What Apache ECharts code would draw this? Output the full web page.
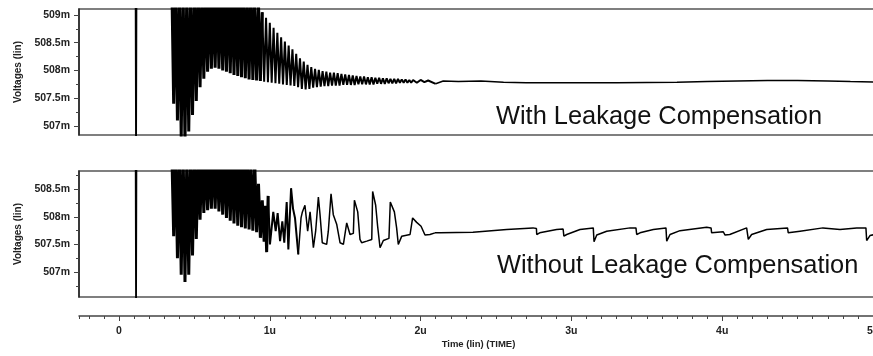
<!DOCTYPE html>
<html>
<head>
<meta charset="utf-8">
<script src="https://cdn.jsdelivr.net/npm/echarts@6/dist/echarts.min.js"></script>
<style>
html,body{margin:0;padding:0;background:#fff;}
#c{width:873px;height:356px;}
</style>
</head>
<body>
<div id="c"></div>
<script>
// ---------- tick labels ----------
const xTickLabels = [0, 1, 2, 3, 4, 5];
const xMinorTicks = [-0.265,-0.2,-0.1,0.1,0.2,0.3,0.4,0.5,0.6,0.7,0.8,0.9,1.1,1.2,1.3,1.4,1.5,1.6,1.7,1.8,1.9,2.1,2.2,2.3,2.4,2.5,2.6,2.7,2.8,2.9,3.1,3.2,3.3,3.4,3.5,3.6,3.7,3.8,3.9,4.1,4.2,4.3,4.4,4.5,4.6,4.7,4.8,4.9];
const yTicksTop = [507, 507.5, 508, 508.5, 509];
const yMinorTop = [507.25, 507.75, 508.25, 508.75];
const yTicksBottom = [507, 507.5, 508, 508.5];
const yMinorBottom = [506.75, 507.25, 507.75, 508.25, 508.75];

// ---------- top panel: With Leakage Compensation  [time (u), voltage (m)] ----------
const topStart = [[-0.27, 509.6], [0.110, 509.6], [0.113, 506.3], [0.116, 509.6], [0.350, 509.6]];
const topRinging = [
 [0.350,509.6],[0.3625,507.4],[0.375,509.5],[0.3875,507.1],[0.400,509.5],[0.4125,506.8],[0.425,509.5],[0.4375,506.7],
 [0.450,509.5],[0.4625,506.9],[0.475,509.4],[0.4875,507.2],[0.500,509.5],[0.5125,507.45],[0.525,509.5],
 [0.5375,507.7],[0.550,509.4],[0.5625,507.85],[0.575,509.5],[0.5875,507.98],[0.600,509.5],[0.6125,508.03],
 [0.625,509.4],[0.6375,508.05],[0.650,509.5],[0.6625,508.03],[0.675,509.5],[0.6875,508.0],[0.700,509.4],
 [0.7125,507.98],[0.725,509.5],[0.7375,507.95],[0.750,509.5],[0.7625,507.92],[0.775,509.4],[0.7875,507.9],
 [0.800,509.5],[0.8125,507.88],[0.825,509.5],[0.8375,507.86],[0.850,509.3],[0.8625,507.84],[0.875,509.5],
 [0.8875,507.83],[0.900,509.3],[0.9125,507.82],[0.925,509.2],[0.9375,507.81],[0.950,509.05],[0.9625,507.80],
 [0.975,508.95],[0.9875,507.79],[1.000,508.86],[1.0125,507.78],[1.025,508.77],[1.0375,507.77],[1.050,508.68],
 [1.0625,507.76],[1.075,508.60],[1.0875,507.75],[1.100,508.52],[1.1125,507.74],[1.125,508.45],[1.1375,507.73],
 [1.150,508.38],[1.1625,507.72],[1.175,508.30],[1.1875,507.70],[1.200,508.22],[1.2125,507.67],[1.225,508.16],
 [1.2375,507.66],[1.250,508.10],[1.2625,507.67],[1.275,508.06],[1.2875,507.69],[1.300,508.03],[1.3125,507.70],
 [1.325,508.01],[1.3375,507.71],[1.350,507.99],[1.3625,507.72],[1.375,507.98],[1.3875,507.72],[1.400,507.96],
 [1.4125,507.73],[1.425,507.96],[1.4375,507.73],[1.450,507.95],[1.4625,507.73],[1.475,507.94],[1.4875,507.74],
 [1.500,507.93],[1.5125,507.74],[1.525,507.92],[1.5375,507.74],[1.550,507.91],[1.5625,507.74],[1.575,507.90],
 [1.5875,507.75],[1.600,507.89],[1.6125,507.75],[1.625,507.89],[1.6375,507.75],[1.650,507.88],[1.6625,507.75],
 [1.675,507.88],[1.6875,507.75],[1.700,507.87],[1.7125,507.76],[1.725,507.87],[1.7375,507.76],[1.750,507.86],
 [1.7625,507.76],[1.775,507.86],[1.7875,507.77],[1.800,507.85],[1.8125,507.77],[1.825,507.85],[1.8375,507.77],
 [1.850,507.85],[1.8625,507.78],[1.875,507.84],[1.8875,507.78],[1.900,507.84],[1.9125,507.78],[1.925,507.83],
 [1.9375,507.78],[1.950,507.83],[1.975,507.78],[2.000,507.83],[2.025,507.79],[2.050,507.82],[2.100,507.76]
];
const topSettled = [
 [2.100,507.76],[2.15,507.81],[2.25,507.80],[2.4,507.81],[2.55,507.79],[2.7,507.78],[2.9,507.78],[3.1,507.78],[3.3,507.78],
 [3.5,507.785],[3.7,507.79],[3.9,507.80],[4.1,507.81],[4.3,507.82],[4.5,507.82],[4.7,507.81],[4.85,507.80],[5.04,507.79]
];

// ---------- bottom panel: Without Leakage Compensation ----------
const botStart = [[-0.27, 509.6], [0.110, 509.6], [0.113, 506.3], [0.116, 509.6], [0.350, 509.2]];
const botRinging = [
 [0.350,509.2],[0.3625,507.65],[0.375,509.2],[0.3875,507.25],[0.400,509.2],[0.4125,506.95],[0.425,509.2],[0.4375,506.82],
 [0.450,509.1],[0.4625,506.95],[0.475,509.2],[0.4875,507.3],[0.500,509.2],[0.5125,507.6],[0.525,509.1],
 [0.5375,507.95],[0.550,509.2],[0.5625,508.07],[0.575,509.2],[0.5875,508.12],[0.600,509.1],[0.6125,508.15],
 [0.625,509.2],[0.6375,508.15],[0.650,509.2],[0.6625,508.1],[0.675,509.1],[0.6875,508.04],[0.700,509.2],
 [0.7125,507.98],[0.725,509.2],[0.7375,507.93],[0.750,509.1],[0.7625,507.88],[0.775,509.2],[0.7875,507.84],
 [0.800,509.2],[0.8125,507.81],[0.825,509.1],[0.8375,507.79],[0.850,509.2],[0.8625,507.77],[0.875,509.0],
 [0.8875,507.75],[0.900,509.0],[0.9125,507.72],[0.925,508.6],[0.9375,507.62],[0.950,508.3],[0.9625,507.55],
 [0.970,508.2],[0.979,507.36],[0.989,508.38]
];
const botRelaxation = [
 [0.989,508.38],[1.001,507.50],[1.023,508.09],[1.039,507.74],[1.052,508.07],[1.068,507.56],[1.083,507.92],[1.096,507.53],
 [1.112,508.27],[1.123,507.41],[1.141,508.52],[1.154,508.15],[1.167,507.98],[1.189,507.32],[1.207,507.98],
 [1.216,508.09],[1.233,508.21],[1.251,507.74],[1.267,508.09],[1.289,507.44],[1.304,507.74],[1.322,508.36],
 [1.333,508.04],[1.348,507.53],[1.377,507.50],[1.388,507.74],[1.406,508.42],[1.421,508.04],[1.444,507.86],
 [1.466,507.53],[1.488,507.50],[1.510,507.89],[1.532,507.68],[1.554,507.70],[1.561,508.30],[1.583,508.09],
 [1.598,507.59],[1.609,507.53],[1.643,507.56],[1.676,507.59],[1.682,508.46],[1.702,508.21],[1.715,507.83],
 [1.731,507.44],[1.753,507.57],[1.790,507.61],[1.799,508.27],[1.826,508.09],[1.841,507.80],[1.852,507.50],
 [1.875,507.65],[1.930,507.68],[1.947,507.98],[1.974,507.90],[2.003,507.83],[2.029,507.67],[2.062,507.68],[2.095,507.71]
];
const botSettled = [
 [2.095,507.71],[2.129,507.71],[2.347,507.72],[2.571,507.77],[2.745,507.80],[2.768,507.79],[2.770,507.68],[2.79,507.71],
 [2.902,507.77],[2.945,507.78],[2.950,507.65],[2.969,507.68],[3.057,507.77],[3.145,507.80],[3.150,507.55],
 [3.168,507.67],[3.234,507.74],[3.389,507.80],[3.428,507.80],[3.433,507.68],[3.455,507.71],[3.543,507.77],
 [3.627,507.80],[3.632,507.56],[3.654,507.68],[3.72,507.75],[3.897,507.81],[3.926,507.80],[3.930,507.71],
 [4.007,507.73],[4.015,507.73],[4.019,507.67],[4.05,507.68],[4.162,507.80],[4.168,507.80],[4.173,507.59],
 [4.195,507.68],[4.295,507.77],[4.433,507.80],[4.438,507.71],[4.516,507.74],[4.668,507.80],[4.781,507.77],
 [4.892,507.80],[4.953,507.80],[4.958,507.57],[4.98,507.66],[5.04,507.70]
];

const topLabel = 'With Leakage Compensation';
const bottomLabel = 'Without Leakage Compensation';
const yName = 'Voltages (lin)';
const xName = 'Time (lin) (TIME)';

// ---------- layout ----------
const X_MIN = -0.2653, X_MAX = 5.0331;
const GL = 79, GW = 799;
// split the ringing into its dense (clipped) part and its decaying part
const topDense = topRinging.filter(p => p[0] <= 0.95);
const topDecay = topRinging.filter(p => p[0] >= 0.95);
const botDense = botRinging;
const botMessy = botRelaxation.filter(p => p[0] <= 1.2);
const botRelax = botRelaxation.filter(p => p[0] >= 1.189);

const chart = echarts.init(document.getElementById('c'), null, {renderer: 'canvas'});
const labelFont = {fontFamily: '"Liberation Sans", Arial, sans-serif', fontWeight: 'bold', fontSize: 10.5, color: '#222'};

function hiddenX(gi) {
  return {gridIndex: gi, type: 'value', min: X_MIN, max: X_MAX, show: false};
}
function yMain(gi, min, max, ticks) {
  return {
    gridIndex: gi, type: 'value', min: min, max: max, position: 'left',
    name: yName, nameLocation: 'middle', nameRotate: 90, nameGap: 56,
    nameTextStyle: Object.assign({}, labelFont, {fontSize: 10}),
    axisLine: {show: true, onZero: false, lineStyle: {color: '#222', width: 1.5}},
    axisTick: {show: true, length: 5, customValues: ticks, lineStyle: {color: '#444', width: 1}},
    axisLabel: Object.assign({customValues: ticks, margin: 9, formatter: v => v + 'm'}, labelFont),
    splitLine: {show: false}
  };
}
function yMinor(gi, min, max, ticks) {
  return {
    gridIndex: gi, type: 'value', min: min, max: max, position: 'left',
    axisLine: {show: false, onZero: false},
    axisTick: {show: true, length: 3, customValues: ticks, lineStyle: {color: '#444', width: 1}},
    axisLabel: {show: false}, splitLine: {show: false}
  };
}
function lineSeries(xi, yi, data, w) {
  return {type: 'line', xAxisIndex: xi, yAxisIndex: yi, data: data, showSymbol: false, clip: true,
          lineStyle: {color: '#000', width: w, join: 'bevel'}};
}

const option = {
  animation: false,
  backgroundColor: '#fff',
  grid: [
    {left: GL, top: 9, width: GW, height: 126, outerBoundsMode: 'none', show: true, borderColor: '#555', borderWidth: 1.5, backgroundColor: '#fff'},
    {left: GL, top: 171, width: GW, height: 126, outerBoundsMode: 'none', show: true, borderColor: '#555', borderWidth: 1.5, backgroundColor: '#fff'},
    {left: GL, top: 315, width: GW, height: 1, outerBoundsMode: 'none', show: false}
  ],
  xAxis: [
    hiddenX(0), hiddenX(1),
    {
      gridIndex: 2, type: 'value', min: X_MIN, max: X_MAX, position: 'bottom',
      name: xName, nameLocation: 'middle', nameGap: 23,
      nameTextStyle: Object.assign({}, labelFont, {fontSize: 9.5}),
      axisLine: {show: true, onZero: false, lineStyle: {color: '#444', width: 1.5}},
      axisTick: {show: true, length: 5, customValues: xTickLabels, lineStyle: {color: '#444', width: 1}},
      axisLabel: Object.assign({customValues: xTickLabels, margin: 10, formatter: v => v === 0 ? '0' : v + 'u'}, labelFont),
      splitLine: {show: false}
    },
    {
      gridIndex: 2, type: 'value', min: X_MIN, max: X_MAX, position: 'bottom',
      axisLine: {show: false, onZero: false},
      axisTick: {show: true, length: 3, customValues: xMinorTicks, lineStyle: {color: '#444', width: 1}},
      axisLabel: {show: false}, splitLine: {show: false}
    }
  ],
  yAxis: [
    yMain(0, 506.838, 509.108, yTicksTop),
    yMinor(0, 506.838, 509.108, yMinorTop),
    yMain(1, 506.546, 508.832, yTicksBottom),
    yMinor(1, 506.546, 508.832, yMinorBottom),
    {gridIndex: 2, type: 'value', show: false}
  ],
  series: [
    lineSeries(0, 0, topStart, 1.8),
    lineSeries(0, 0, topDense, 3),
    lineSeries(0, 0, topDecay, 2),
    lineSeries(0, 0, topSettled, 1.5),
    lineSeries(1, 2, botStart, 1.8),
    lineSeries(1, 2, botDense, 3),
    lineSeries(1, 2, botMessy, 2),
    lineSeries(1, 2, botRelax, 1.5),
    lineSeries(1, 2, botSettled, 1.5)
  ],
  graphic: [
    {type: 'text', left: 496, top: 104.5, z: 100,
     style: {text: topLabel, font: '25.4px "Liberation Sans", Arial, sans-serif', fill: '#111'}},
    {type: 'text', left: 497, top: 253.5, z: 100,
     style: {text: bottomLabel, font: '25.4px "Liberation Sans", Arial, sans-serif', fill: '#111'}}
  ]
};
chart.setOption(option);
</script>
</body>
</html>
